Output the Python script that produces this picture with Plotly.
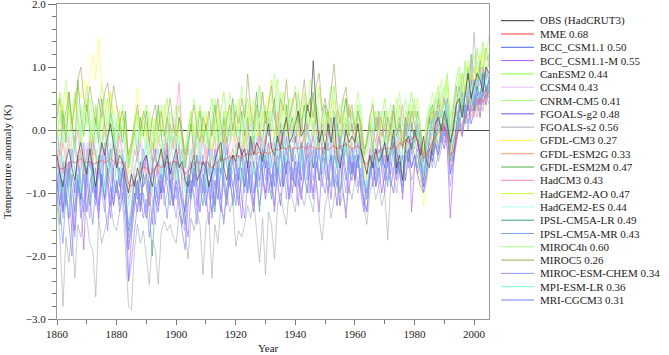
import plotly.graph_objects as go

years = list(range(1860, 2006))

names = ["OBS (HadCRUT3)", "MME", "BCC_CSM1.1", "BCC_CSM1.1-M", "CanESM2", "CCSM4",
         "CNRM-CM5", "FGOALS-g2", "FGOALS-s2", "GFDL-CM3", "GFDL-ESM2G", "GFDL-ESM2M",
         "HadCM3", "HadGEM2-AO", "HadGEM2-ES", "IPSL-CM5A-LR", "IPSL-CM5A-MR",
         "MIROC4h", "MIROC5", "MIROC-ESM-CHEM", "MPI-ESM-LR", "MRI-CGCM3"]
corr = [None, 0.68, 0.50, 0.55, 0.44, 0.43, 0.41, 0.48, 0.56, 0.27, 0.33, 0.47,
        0.43, 0.47, 0.44, 0.49, 0.43, 0.60, 0.26, 0.34, 0.36, 0.31]
colors = ["#303030", "#ff3a3a", "#4a68f0", "#a858ff", "#88ff38", "#ecbcff",
          "#a8ff78", "#8050e0", "#a0aab4", "#ffff40", "#ff9c68", "#50b048",
          "#ff84b8", "#c4ff38", "#b4fff0", "#40a084", "#78a4ff", "#a4ff84",
          "#a4a458", "#9494ff", "#74ffd0", "#7a80ff"]

obs = [-0.4,-0.7,-0.9,-0.5,-0.3,-0.6,-0.8,-0.4,-0.2,-0.5,
       -0.7,-0.3,-0.6,-0.9,-0.5,-0.2,-0.4,-0.1,0.1,-0.3,
       -0.6,-0.4,-0.5,-0.8,-1.0,-0.7,-0.9,-0.6,-0.8,-0.5,
       -0.4,-0.7,-0.9,-0.6,-0.5,-0.3,-0.6,-0.4,-0.7,-0.5,
       -0.3,-0.6,-0.5,-0.8,-0.9,-0.6,-0.4,-0.8,-0.7,-0.5,
       -0.6,-0.9,-0.7,-0.5,-0.3,-0.2,-0.6,-0.8,-0.5,-0.4,
       -0.5,-0.2,-0.4,-0.3,-0.6,-0.1,-0.4,-0.2,-0.3,-0.5,
       -0.2,0.1,-0.3,-0.4,-0.1,-0.3,0.0,0.2,-0.2,-0.1,
       0.1,0.3,-0.1,0.0,0.4,0.2,1.1,0.3,-0.2,0.0,
       -0.3,0.1,-0.2,0.2,-0.4,-0.6,-0.3,0.0,-0.2,-0.1,
       -0.2,0.1,-0.3,-0.5,-0.7,-0.4,-0.6,-0.3,-0.5,-0.4,
       -0.2,-0.5,-0.3,0.0,-0.6,-0.4,-0.8,-0.2,-0.1,-0.3,
       0.0,-0.2,-0.4,-0.1,-0.5,-0.6,-0.2,0.1,0.2,0.0,
       0.3,0.1,-0.2,0.0,0.4,0.5,0.2,0.6,0.9,0.5,
       0.7,0.9,0.8,0.6,1.0,0.9]

mme = [-0.55,-0.6,-0.62,-0.58,-0.55,-0.5,-0.52,-0.5,-0.45,-0.5,
       -0.52,-0.5,-0.55,-0.52,-0.5,-0.48,-0.52,-0.5,-0.45,-0.5,
       -0.55,-0.52,-0.5,-0.6,-0.85,-0.9,-0.8,-0.7,-0.65,-0.6,
       -0.6,-0.7,-0.68,-0.6,-0.55,-0.6,-0.55,-0.5,-0.55,-0.5,
       -0.5,-0.55,-0.6,-0.7,-0.65,-0.6,-0.55,-0.5,-0.52,-0.55,
       -0.5,-0.55,-0.6,-0.55,-0.5,-0.45,-0.48,-0.45,-0.42,-0.45,
       -0.4,-0.42,-0.45,-0.4,-0.38,-0.4,-0.35,-0.38,-0.35,-0.4,
       -0.35,-0.38,-0.35,-0.3,-0.32,-0.3,-0.28,-0.3,-0.25,-0.3,
       -0.28,-0.3,-0.25,-0.28,-0.3,-0.25,-0.28,-0.3,-0.3,-0.28,
       -0.3,-0.32,-0.28,-0.25,-0.3,-0.28,-0.25,-0.22,-0.25,-0.3,
       -0.28,-0.25,-0.3,-0.5,-0.55,-0.45,-0.4,-0.35,-0.35,-0.3,
       -0.3,-0.28,-0.3,-0.25,-0.3,-0.2,-0.25,-0.15,-0.2,-0.15,
       -0.1,-0.15,-0.3,-0.45,-0.4,-0.3,-0.2,-0.1,-0.05,0.0,
       0.05,-0.1,-0.4,-0.35,-0.15,0.05,0.1,0.2,0.25,0.3,
       0.35,0.4,0.5,0.45,0.55,0.6]

bcc_csm11 = [-0.8,-1.2,-0.5,-0.9,-1.4,-0.7,-1.0,-0.4,-0.9,-1.3,
             -0.6,-0.2,-0.8,-1.1,-0.5,-0.9,-0.3,-0.7,-1.2,-0.6,
             -0.4,-0.9,-0.6,-1.0,-1.6,-1.3,-0.8,-1.1,-0.5,-0.9,
             -0.7,-1.2,-0.6,-0.3,-0.8,-1.0,-0.5,-0.2,-0.9,-0.6,
             -0.4,-0.8,-1.1,-1.3,-0.7,-0.5,-0.9,-0.4,-0.7,-1.0,
             -0.6,-0.3,-0.8,-1.2,-0.5,-0.7,-0.2,-0.6,-0.9,-0.4,
             -0.5,-0.8,-0.3,-0.6,-1.0,-0.4,-0.1,-0.5,-0.8,-0.3,
             -0.6,-0.2,-0.5,-0.9,-0.3,0.0,-0.4,-0.7,-0.2,-0.5,
             -0.1,-0.4,-0.8,-0.3,0.1,-0.2,-0.6,-0.4,0.0,-0.3,
             -0.5,-0.1,0.2,-0.3,-0.6,-0.2,-0.4,0.1,-0.3,-0.7,
             -0.2,-0.5,-0.1,-0.8,-1.0,-0.6,-0.3,-0.5,-0.1,-0.4,
             -0.6,-0.2,0.1,-0.4,-0.7,-0.3,0.0,-0.2,-0.5,0.1,
             -0.2,0.0,-0.5,-0.7,-0.3,-0.1,0.2,-0.2,0.1,0.3,
             0.0,0.4,-0.3,-0.5,0.1,0.3,0.6,0.2,0.5,0.8,
             0.4,0.7,0.5,0.9,0.6,0.8]

bcc_csm11m = [-0.5,-0.9,-1.3,-0.6,-1.0,-1.6,-0.8,-0.4,-1.1,-1.9,
              -0.7,-0.3,-1.0,-0.6,-1.2,-0.5,-0.2,-0.9,-1.4,-0.6,
              -0.3,-0.8,-1.1,-0.5,-2.4,-1.7,-1.2,-0.8,-1.3,-0.7,
              -0.4,-1.0,-1.5,-0.8,-0.5,-1.1,-0.7,-0.3,-0.9,-1.2,
              -0.6,-0.2,-0.9,-1.4,-1.7,-1.0,-0.6,-1.2,-0.8,-0.4,
              -1.0,-1.5,-0.7,-0.3,-0.9,-1.3,-0.6,-0.2,-0.8,-1.1,
              -0.5,-0.9,-1.4,-0.6,-0.3,-0.8,-1.2,-0.5,-0.1,-0.7,
              -1.0,-0.4,-0.8,-1.3,-0.6,-0.2,-0.9,-0.5,-1.1,-0.3,
              -0.7,-1.2,-0.4,0.0,-0.6,-1.0,-0.3,-0.8,-1.3,-0.5,
              -0.2,-0.7,-1.1,-0.4,0.1,-0.5,-0.9,-1.4,-0.6,-0.2,
              -0.8,-0.4,-1.0,-1.3,-0.7,-0.3,-0.9,-0.5,0.2,-0.6,
              -1.0,-0.4,-0.7,-0.2,-0.8,-0.5,-1.1,-0.3,0.1,-1.3,
              -0.6,-0.2,-0.5,-0.9,-0.3,0.2,-0.4,0.0,0.3,-0.2,
              0.1,-0.3,-1.4,-0.6,0.0,0.4,0.2,0.7,0.3,1.2,
              0.5,0.9,0.4,1.0,0.7,0.6]

canesm2 = [0.3,0.6,0.2,-0.1,0.4,0.0,0.5,0.1,-0.2,0.3,
           0.7,0.2,-0.1,0.4,0.1,-0.3,0.2,0.5,0.0,-0.2,
           0.1,0.3,-0.2,0.2,-0.5,-0.3,0.0,0.3,-0.1,0.2,
           0.4,0.0,-0.3,0.1,0.3,-0.1,0.2,0.5,0.0,-0.2,
           0.1,0.4,-0.1,-0.4,0.0,0.3,-0.2,0.1,0.4,0.0,
           -0.3,0.2,0.5,0.0,-0.2,0.3,0.6,0.1,-0.1,0.2,
           0.4,0.0,-0.3,0.2,0.5,0.1,-0.2,0.3,0.7,0.2,
           -0.1,0.3,0.0,0.4,0.8,0.2,-0.1,0.3,0.5,0.0,
           0.2,0.6,0.1,-0.2,0.3,0.5,0.0,0.4,0.2,-0.1,
           0.3,0.0,0.4,0.7,0.1,-0.2,0.2,0.5,0.0,0.3,
           0.1,0.4,-0.1,-0.4,-0.2,0.2,0.0,0.3,-0.1,0.2,
           0.5,0.1,-0.2,0.3,0.0,0.4,0.1,-0.2,0.3,0.6,
           0.2,0.0,-0.3,-0.5,0.1,0.4,0.2,0.5,0.7,0.3,
           0.6,0.9,0.2,0.4,0.8,1.0,0.6,1.1,0.8,1.2,
           0.9,1.3,1.0,1.4,1.1,1.2]

ccsm4 = [-0.2,-0.5,0.0,-0.4,-0.7,-0.1,-0.3,-0.6,0.1,-0.4,
         -0.2,-0.5,-0.1,-0.4,-0.8,-0.3,0.0,-0.5,-0.2,-0.6,
         -0.3,0.1,-0.4,-0.2,-0.9,-0.6,-0.3,-0.5,-0.1,-0.4,
         -0.6,-0.2,0.0,-0.5,-0.3,-0.7,-0.2,0.1,-0.4,-0.1,
         -0.5,-0.3,-0.6,-0.8,-0.2,-0.4,0.0,-0.3,-0.6,-0.2,
         -0.4,-0.1,-0.5,-0.7,-0.3,0.0,-0.4,-0.2,0.1,-0.3,
         -0.5,-0.2,0.0,-0.4,-0.1,0.2,-0.3,-0.5,-0.1,0.1,
         -0.2,-0.4,0.0,0.3,-0.1,-0.3,0.1,-0.2,0.2,-0.1,
         -0.3,0.0,0.2,-0.2,0.1,-0.4,-0.1,0.3,0.0,-0.2,
         0.1,-0.3,0.0,0.2,-0.1,-0.4,0.1,-0.2,0.0,0.3,
         -0.1,0.1,-0.2,-0.6,-0.4,-0.1,0.2,-0.3,0.0,-0.2,
         0.1,-0.3,0.0,0.2,-0.2,0.1,-0.1,0.3,0.0,0.2,
         0.4,0.1,-0.1,-0.4,0.0,0.3,0.1,0.5,0.2,0.6,
         0.3,0.5,-0.1,0.2,0.6,0.4,0.7,0.9,0.5,0.8,
         1.0,0.7,1.1,0.9,0.8,1.2]

cnrm_cm5 = [0.5,0.1,0.4,0.8,0.3,0.0,0.6,0.2,-0.1,0.4,
            0.1,0.5,0.2,-0.2,0.3,0.7,0.4,0.0,0.3,-0.1,
            0.2,0.0,0.4,0.1,-0.4,-0.2,0.1,0.3,-0.1,0.2,
            -0.1,0.3,0.0,-0.3,0.2,0.4,0.0,-0.2,0.3,0.1,
            0.4,0.0,-0.2,-0.5,-0.1,0.2,0.5,0.1,-0.2,0.3,
            0.0,-0.3,0.2,0.5,0.1,-0.2,0.3,0.0,0.6,0.2,
            -0.1,0.3,0.7,0.2,0.0,0.4,0.1,-0.2,0.3,0.6,
            0.2,0.0,0.5,0.9,0.3,0.1,0.6,0.2,-0.1,0.4,
            0.7,0.3,0.0,0.5,0.2,0.8,0.4,0.1,0.6,0.3,
            0.0,0.4,0.7,0.2,-0.1,0.3,0.5,0.1,0.4,0.0,
            0.3,0.6,0.2,-0.3,-0.1,0.2,0.5,0.0,0.3,0.1,
            -0.2,0.2,0.4,0.0,0.3,0.6,0.1,-0.1,0.4,0.2,
            0.5,0.1,-0.2,-0.6,-0.1,0.3,0.6,0.2,0.4,0.8,
            0.4,0.7,0.0,0.3,0.6,0.9,0.5,1.0,0.7,0.9,
            1.2,0.8,1.0,1.3,0.9,1.1]

fgoals_g2 = [-1.0,-0.6,-1.3,-0.9,-0.5,-1.2,-1.6,-0.8,-1.1,-0.7,
             -1.3,-0.9,-0.5,-1.0,-1.4,-0.7,-1.1,-0.6,-0.9,-1.2,
             -0.8,-1.1,-0.6,-1.3,-1.9,-1.5,-1.0,-1.3,-0.8,-1.1,
             -1.4,-0.9,-0.6,-1.1,-1.3,-0.8,-1.0,-0.5,-0.9,-1.2,
             -0.8,-1.1,-1.5,-1.2,-0.7,-1.0,-0.6,-0.9,-1.3,-0.8,
             -0.5,-1.0,-1.3,-0.8,-1.1,-0.6,-0.9,-1.2,-0.7,-0.4,
             -0.9,-1.2,-0.6,-0.9,-0.5,-1.0,-1.3,-0.7,-0.4,-0.8,
             -1.1,-0.6,-0.9,-0.4,-0.8,-1.2,-0.7,-0.3,-0.6,-1.0,
             -0.5,-0.8,-1.1,-0.6,-0.2,-0.7,-1.0,-0.5,-0.8,-0.3,
             -0.7,-1.0,-0.4,-0.8,-1.2,-0.6,-0.3,-0.7,-1.0,-0.5,
             -0.8,-0.4,-0.9,-1.1,-1.3,-0.7,-0.5,-0.9,-0.6,-1.0,
             -0.7,-0.3,-0.8,-1.0,-0.5,-0.7,-0.4,-0.8,-0.3,-0.6,
             -0.4,-0.7,-0.9,-1.0,-0.6,-0.3,-0.5,-0.2,-0.4,-0.1,
             -0.3,0.0,-0.7,-0.5,-0.2,0.1,-0.1,0.2,0.4,0.1,
             0.3,0.5,0.2,0.6,0.4,0.7]

fgoals_s2 = [-1.2,-1.7,-2.8,-1.7,-2.1,-1.6,-2.35,-1.5,-1.7,-1.3,
             -1.4,-1.8,-1.9,-2.65,-1.4,-1.8,-1.6,-1.4,-1.15,-1.5,
             -1.6,-1.3,-1.1,-1.9,-2.8,-2.85,-1.9,-1.5,-1.8,-1.6,
             -2.0,-2.45,-1.75,-1.9,-2.45,-1.6,-1.45,-1.6,-1.5,-1.7,
             -1.8,-1.3,-1.5,-1.6,-2.05,-1.4,-1.6,-1.3,-1.5,-2.3,
             -1.5,-1.3,-2.35,-1.5,-1.8,-1.2,-1.4,-1.0,-1.3,-1.1,
             -1.85,-1.6,-1.7,-1.5,-1.2,-1.4,-1.1,-1.6,-2.1,-1.4,
             -2.3,-1.3,-1.5,-2.05,-1.2,-1.0,-1.3,-1.5,-0.9,-1.1,
             -1.3,-0.8,-1.0,-1.2,-0.9,-1.1,-1.3,-0.8,-1.4,-1.75,
             -1.2,-1.0,-1.4,-1.1,-0.8,-1.2,-1.0,-1.3,-0.9,-1.1,
             -0.8,-1.0,-0.7,-1.2,-1.5,-1.0,-0.8,-1.1,-0.9,-1.2,
             -1.0,-1.75,-0.9,-0.7,-1.0,-0.6,-0.9,-0.7,-0.5,-0.8,
             -0.6,-0.4,-0.7,-1.0,-0.8,-0.5,-0.3,-0.6,-0.4,-0.2,
             0.2,0.5,0.0,0.4,0.7,0.3,0.9,0.6,1.0,0.7,
             1.55,0.8,1.1,0.9,1.3,1.0]

gfdl_cm3 = [0.3,0.5,0.2,0.6,0.3,0.0,0.4,0.7,0.5,0.8,
            0.6,0.9,1.2,0.8,1.45,0.7,0.5,0.3,0.6,0.2,
            0.4,0.1,0.3,0.0,-0.4,-0.2,0.2,0.66,0.3,0.1,
            -0.2,0.2,0.0,-0.3,0.1,0.3,-0.1,0.2,0.0,-0.3,
            0.1,-0.2,0.0,-0.5,-0.3,0.1,-0.1,0.3,0.0,-0.2,
            0.2,-0.1,-0.4,0.0,0.3,0.1,-0.2,0.0,0.4,0.1,
            -0.2,0.2,0.0,-0.3,0.1,0.4,0.2,-0.1,0.3,0.0,
            0.3,0.55,0.1,-0.2,0.2,0.0,0.4,0.1,-0.1,0.3,
            0.0,0.3,0.1,-0.2,0.2,0.5,0.1,-0.1,0.2,0.0,
            -0.3,0.1,0.3,-0.1,-0.4,0.0,0.2,-0.2,0.1,-0.3,
            0.0,0.2,-0.2,-0.6,-0.8,-0.4,-0.1,-0.3,0.0,-0.2,
            -0.4,-0.1,0.1,-0.3,-0.5,-0.2,0.0,-0.4,-0.1,0.2,
            -0.2,-0.5,-0.8,-1.2,-0.9,-0.4,-0.1,0.1,-0.2,0.3,
            0.1,0.4,-0.5,-0.2,0.3,0.6,0.4,0.8,0.5,0.9,
            0.7,1.0,0.8,1.2,0.9,1.1]

gfdl_esm2g = [-0.3,-0.6,-0.2,-0.5,-0.8,-0.4,-0.1,-0.6,-0.3,-0.7,
              -0.4,-0.1,-0.5,-0.3,-0.7,-0.2,-0.5,-0.8,-0.4,-0.2,
              -0.6,-0.3,-0.5,-0.7,-1.1,-0.9,-0.6,-0.4,-0.7,-0.5,
              -0.8,-1.2,-0.6,-0.4,-0.7,-0.3,-0.6,-0.2,-0.5,-0.8,
              -0.5,-0.3,-0.7,-0.9,-0.6,-0.4,-0.2,-0.6,-0.8,-0.4,
              -0.3,-0.6,-0.4,-0.7,-0.2,-0.5,-0.3,-0.1,-0.5,-0.3,
              -0.6,-0.2,-0.4,0.0,-0.3,-0.5,-0.2,-0.4,0.1,-0.3,
              -0.1,-0.4,-0.2,-0.5,0.0,-0.3,-0.1,0.2,-0.2,-0.4,
              -0.2,0.1,-0.3,-0.1,-0.4,-0.2,0.1,-0.3,0.0,-0.2,
              -0.4,-0.1,0.1,-0.2,-0.5,-0.3,0.0,-0.2,-0.4,-0.1,
              0.0,-0.3,-0.1,-0.5,-0.7,-0.4,-0.2,-0.5,-0.1,-0.3,
              -0.5,-0.2,0.0,-0.3,-0.6,-0.1,-0.3,0.1,-0.2,-0.4,
              -0.1,0.1,-0.3,-0.6,-0.4,-0.2,0.0,-0.3,0.2,0.0,
              0.1,-0.1,-0.6,-0.3,0.0,0.2,-0.1,0.3,0.5,0.2,
              0.4,0.2,0.5,0.3,0.6,0.4]

gfdl_esm2m = [0.0,-0.4,0.3,-0.2,0.6,0.1,-0.3,0.8,0.2,-0.1,
              0.4,0.0,-0.4,0.2,-0.2,0.5,0.1,-0.3,0.3,0.0,
              -0.4,0.1,-0.2,0.3,-0.6,-0.3,0.0,-0.4,0.2,-0.1,
              0.3,-0.2,-0.5,0.0,0.4,-0.1,-0.4,0.2,-0.2,0.1,
              -0.3,0.2,-0.1,-0.6,-0.2,0.1,-0.4,0.0,0.3,-0.2,
              0.1,-0.3,0.0,0.4,-0.1,-0.5,0.2,-0.2,0.1,0.5,
              0.0,-0.3,0.3,-0.1,0.2,-0.4,0.1,0.6,0.0,-0.2,
              0.3,-0.1,0.2,0.5,-0.2,0.1,-0.3,0.4,0.0,0.2,
              -0.2,0.3,0.0,0.4,-0.1,0.2,0.6,0.0,-0.3,0.2,
              0.4,0.0,-0.2,0.3,0.1,-0.3,0.2,0.5,-0.1,0.1,
              -0.2,0.3,0.0,-0.4,-0.2,0.1,-0.3,0.2,0.0,-0.1,
              0.3,-0.2,0.1,0.4,-0.1,0.2,-0.3,0.0,0.3,0.1,
              -0.1,0.3,0.0,-0.5,-0.2,0.2,0.4,0.1,0.5,0.2,
              0.5,0.2,-0.3,0.1,0.4,0.7,0.3,0.6,0.9,0.5,
              0.8,0.6,1.0,0.7,0.9,0.8]

hadcm3 = [-0.5,-0.2,-0.7,-0.4,-0.1,-0.6,-0.3,0.0,-0.5,-0.8,
          -0.3,-0.6,-0.1,-0.4,-0.7,-0.2,0.1,-0.3,-0.6,-0.2,
          -0.5,-0.1,-0.4,-0.6,-1.0,-0.7,-0.3,-0.5,-0.2,-0.6,
          -0.4,-0.7,-0.2,-0.5,-0.1,-0.4,-0.6,-0.2,0.1,-0.3,
          0.2,0.75,-0.1,-0.5,-0.3,-0.6,-0.2,0.0,-0.4,-0.1,
          -0.5,-0.2,-0.4,-0.1,-0.6,-0.3,0.0,-0.4,-0.2,0.1,
          -0.3,-0.1,-0.5,-0.2,0.1,-0.3,-0.6,-0.2,0.0,-0.4,
          -0.1,0.2,-0.3,-0.1,0.3,-0.2,0.0,-0.4,0.1,-0.2,
          0.0,-0.3,0.2,-0.1,0.1,-0.4,0.0,0.3,-0.2,0.1,
          -0.1,0.2,-0.3,0.0,0.3,-0.2,0.1,-0.1,0.4,0.0,
          -0.2,0.1,-0.1,-0.5,-0.6,-0.3,0.0,-0.2,0.2,-0.1,
          0.1,-0.2,0.2,0.0,-0.3,0.1,0.4,-0.1,0.2,0.0,
          0.3,0.1,-0.2,-0.5,-0.2,0.1,0.3,0.0,0.4,0.2,
          0.5,0.3,-0.2,0.0,0.4,0.6,0.3,0.7,0.5,0.9,
          0.6,0.8,0.7,1.0,0.8,0.9]

hadgem2_ao = [0.2,-0.1,0.4,0.0,-0.3,0.3,0.6,0.1,-0.2,0.2,
              0.5,0.1,-0.2,0.3,0.0,0.4,-0.1,0.2,0.6,0.1,
              -0.2,0.2,0.0,-0.3,-0.7,-0.4,-0.1,0.2,-0.2,0.1,
              0.0,-0.4,-0.1,0.2,-0.2,0.1,0.4,0.0,-0.3,0.2,
              0.1,-0.2,-0.5,-0.3,0.0,0.3,-0.1,0.2,-0.2,0.0,
              0.3,-0.1,-0.3,0.1,0.4,0.0,-0.2,0.3,0.1,-0.1,
              0.2,0.5,0.0,-0.2,0.3,0.1,0.5,0.2,-0.1,0.3,
              0.1,0.4,0.8,0.2,-0.1,0.3,0.6,0.0,0.2,0.5,
              0.3,-0.1,0.2,0.6,0.1,0.3,-0.1,0.4,0.7,0.2,
              0.0,0.3,0.1,0.5,0.2,-0.1,0.3,0.0,0.4,0.2,
              0.1,-0.2,0.2,-0.5,-0.3,0.0,0.3,0.1,-0.1,0.2,
              0.0,0.3,-0.1,0.2,0.5,0.1,-0.2,0.3,0.1,0.4,
              0.2,0.5,0.0,-0.4,-0.1,0.3,0.1,0.4,0.6,0.2,
              0.5,0.8,-0.1,0.3,0.6,0.4,0.9,0.6,1.1,0.8,
              1.0,0.8,1.2,1.0,1.3,1.1]

hadgem2_es = [-0.6,-0.2,-0.9,-0.4,0.0,-0.5,-0.8,-0.3,0.1,-0.4,
              -0.7,-0.2,0.2,-0.3,-0.6,-0.1,-0.4,0.0,-0.5,0.3,
              -0.2,-0.5,-0.1,-0.4,-0.9,-0.6,-0.3,0.1,-0.2,-0.5,
              -0.1,-0.6,-0.3,0.0,-0.4,-0.7,-0.2,0.1,-0.3,0.2,
              -0.4,-0.1,-0.6,-0.3,0.0,-0.5,-0.2,0.2,-0.3,-0.6,
              -0.2,0.1,-0.4,-0.7,-0.3,0.0,-0.5,-0.2,0.3,-0.1,
              -0.4,0.0,-0.3,0.2,-0.1,-0.5,0.1,-0.2,0.4,-0.3,
              0.0,-0.2,0.3,-0.1,-0.4,0.2,0.0,-0.3,0.1,0.4,
              -0.1,0.2,-0.2,0.0,0.3,-0.3,0.1,-0.1,0.2,-0.2,
              0.1,-0.3,0.0,0.3,-0.1,0.2,-0.4,0.0,0.2,-0.2,
              0.0,0.3,-0.1,-0.4,-0.6,-0.2,0.1,-0.3,0.0,-0.1,
              -0.3,0.0,0.2,-0.2,0.1,-0.4,0.0,0.2,-0.1,0.3,
              0.0,0.2,-0.3,-0.6,-0.2,0.1,-0.1,0.3,0.1,0.4,
              0.2,0.5,-0.4,-0.1,0.3,0.6,0.2,0.5,0.8,0.4,
              0.7,0.5,0.9,0.6,0.8,0.7]

ipsl_cm5a_lr = [-1.0,-1.5,-0.8,-1.2,-0.6,-0.9,-1.3,-0.7,-1.1,-0.5,
                -0.8,-1.2,-0.6,-1.0,-0.4,-0.9,-1.1,-0.6,-0.3,-0.8,
                -1.0,-0.6,-0.9,-1.2,-1.7,-1.4,-1.1,-0.8,-1.2,-0.7,
                -0.9,-1.3,-2.0,-1.1,-0.8,-1.0,-0.6,-0.9,-1.2,-0.7,
                -0.5,-0.9,-1.2,-1.5,-0.8,-1.1,-0.7,-0.4,-0.9,-1.2,
                -0.8,-0.5,-1.0,-1.3,-0.7,-0.4,-0.8,-1.1,-0.6,-0.9,
                -1.2,-0.7,-0.4,-0.9,-0.6,-1.0,-0.5,-0.8,-1.3,-0.6,
                -0.4,-0.8,-1.1,-0.5,-0.7,-0.3,-0.9,-0.6,-0.2,-0.7,
                -0.9,-0.5,-0.2,-0.7,-1.0,-0.4,-0.6,-0.3,-0.8,-0.5,
                -0.3,-0.7,-0.9,-0.4,-0.6,-1.0,-0.5,-0.2,-0.6,-0.8,
                -0.4,-0.6,-0.3,-0.9,-1.1,-0.7,-0.4,-0.8,-0.5,-0.3,
                -0.6,-0.9,-0.4,-0.2,-0.7,-0.5,-0.8,-0.3,-0.5,-0.2,
                -0.4,-0.6,-0.3,-0.8,-0.5,-0.2,-0.4,0.0,-0.3,0.1,
                -0.1,0.2,-0.5,-0.2,0.0,0.3,0.5,0.1,0.4,0.6,
                0.3,0.7,0.5,0.9,0.6,0.8]

ipsl_cm5a_mr = [-0.4,-0.8,-1.1,-0.5,-0.9,-0.3,-0.7,-1.0,-0.6,-0.2,
                -0.9,-0.5,-0.8,-1.2,-0.6,-0.4,-0.9,-0.3,-0.7,-1.0,
                -0.5,-0.8,-0.4,-0.9,-1.5,-1.2,-0.7,-1.0,-0.6,-0.3,
                -0.7,-1.0,-0.5,-0.8,-1.1,-0.6,-0.4,-0.8,-0.5,-0.9,
                -1.1,-0.6,-0.3,-0.8,-1.0,-0.7,-0.5,-0.9,-0.4,-0.7,
                -1.0,-0.6,-0.9,-0.4,-0.8,-1.1,-0.5,-0.3,-0.7,-0.5,
                -0.8,-0.4,-0.7,-1.0,-0.5,-0.2,-0.6,-0.9,-0.4,-0.6,
                -0.3,-0.7,-0.5,-0.2,-0.8,-0.4,-0.6,-0.1,-0.5,-0.8,
                -0.4,-0.7,-0.2,-0.5,-0.8,-0.3,-0.1,-0.6,-0.4,-0.7,
                -0.5,-0.2,-0.6,-0.9,-0.4,-0.1,-0.5,-0.3,-0.7,-0.4,
                -0.6,-0.2,-0.5,-0.8,-1.0,-0.6,-0.4,-0.7,-0.3,-0.5,
                -0.2,-0.6,-0.4,-0.1,-0.5,-0.7,-0.3,0.2,-0.4,-0.1,
                -0.3,0.1,-0.2,-0.7,-0.5,-0.1,0.2,-0.2,0.3,0.0,
                0.2,0.5,-0.3,0.0,0.4,0.1,0.6,0.3,0.7,0.5,
                0.8,0.5,0.9,0.7,1.0,0.8]

miroc4h = [-0.1,0.3,-0.2,0.1,0.5,0.0,-0.3,0.2,0.4,-0.1,
           0.2,-0.2,0.1,0.4,-0.1,0.2,-0.3,0.0,0.3,-0.2,
           0.1,-0.1,0.2,-0.2,-0.6,-0.3,0.0,-0.2,0.1,-0.1,
           -0.3,0.0,0.2,-0.2,0.1,-0.4,-0.1,0.2,-0.2,0.0,
           -0.2,0.1,-0.3,-0.5,-0.1,0.2,0.0,-0.3,0.1,-0.2,
           0.0,-0.3,0.1,-0.2,0.2,-0.1,0.3,0.0,-0.2,0.1,
           -0.1,0.2,0.0,0.4,-0.1,0.1,-0.2,0.3,0.0,0.2,
           0.4,0.0,0.2,-0.1,0.3,0.6,0.1,-0.1,0.2,0.0,
           0.2,0.5,0.0,0.3,-0.1,0.2,0.0,0.4,0.1,-0.2,
           0.1,0.3,0.0,-0.2,0.2,0.4,0.0,0.2,-0.1,0.3,
           0.0,0.2,0.4,-0.3,-0.2,0.1,-0.1,0.2,0.0,0.3,
           0.1,-0.2,0.2,0.0,0.3,-0.1,0.2,0.5,0.0,0.2,
           0.4,0.1,-0.1,-0.3,0.2,0.0,0.3,0.5,0.2,0.4,
           0.7,0.4,0.0,0.2,0.5,0.8,0.4,0.7,1.0,0.6,
           0.9,1.1,0.8,1.0,1.2,1.5]

miroc5 = [0.2,0.5,0.0,0.3,0.6,0.1,0.4,0.8,1.0,0.5,
          0.3,0.7,0.4,0.1,0.5,0.2,0.6,0.75,0.3,0.7,
          0.4,0.1,0.3,-0.1,-0.4,-0.2,0.1,0.4,0.0,0.3,
          0.1,-0.2,0.2,0.4,0.0,0.3,-0.1,0.2,0.5,0.1,
          -0.1,0.2,0.0,-0.4,-0.2,0.1,0.4,0.0,-0.2,0.2,
          0.0,0.3,-0.1,0.2,0.5,0.1,-0.2,0.2,0.4,0.0,
          0.3,0.1,0.5,0.2,0.89,0.3,0.0,0.4,0.2,0.6,
          0.1,0.4,0.7,0.2,0.0,0.5,0.3,0.8,0.2,0.4,
          0.6,0.1,0.4,0.8,0.3,0.5,0.2,0.7,0.9,0.3,
          0.5,0.2,0.6,1.05,0.4,0.1,0.5,0.68,0.2,0.4,
          0.0,0.3,0.1,-0.3,-0.2,0.2,0.4,0.0,0.3,0.1,
          -0.2,0.2,0.0,0.3,-0.1,0.1,-0.3,0.2,0.0,0.3,
          0.1,-0.2,0.0,-0.4,-0.1,0.2,0.0,0.3,0.1,-0.1,
          0.2,0.0,-0.3,0.1,0.3,0.0,0.4,0.2,0.6,0.3,
          0.5,0.3,0.6,0.4,0.7,0.5]

miroc_esm_chem = [-1.2,-0.8,-1.4,-1.0,-0.6,-1.3,-1.7,-0.9,-1.2,-0.7,
                  -1.0,-1.4,-0.8,-1.1,-0.6,-1.0,-1.3,-0.8,-0.5,-1.1,
                  -0.9,-1.2,-0.7,-1.0,-1.8,-1.6,-1.2,-0.9,-1.3,-1.0,
                  -1.3,-0.8,-1.1,-1.5,-0.9,-0.7,-1.2,-1.0,-0.6,-1.1,
                  -1.4,-0.9,-1.2,-1.6,-1.1,-0.8,-1.0,-1.3,-0.7,-1.0,
                  -1.2,-0.8,-1.1,-0.6,-0.9,-1.3,-0.7,-1.0,-0.5,-0.9,
                  -0.7,-1.1,-0.8,-0.5,-1.0,-0.7,-1.2,-0.6,-0.9,-0.4,
                  -0.8,-0.5,-1.0,-0.7,-0.4,-0.9,-0.6,-1.1,-0.5,-0.8,
                  -0.6,-0.9,-0.4,-0.7,-1.0,-0.5,-0.8,-0.3,-0.7,-0.9,
                  -0.5,-0.8,-0.3,-0.6,-0.9,-0.4,-0.7,-1.0,-0.5,-0.3,
                  -0.7,-0.4,-0.8,-1.2,-1.0,-0.6,-0.8,-0.5,-0.9,-0.6,
                  -0.4,-0.8,-0.5,-0.7,-0.3,-0.6,-0.9,-0.4,-0.6,-0.3,
                  -0.6,-0.3,-0.7,-1.0,-0.8,-0.4,-0.6,-0.2,-0.5,-0.3,
                  0.0,-0.3,-0.9,-0.5,-0.2,0.1,-0.1,0.3,0.0,0.4,
                  0.2,0.5,0.3,0.6,0.4,0.7]

mpi_esm_lr = [-0.6,-1.0,-0.4,-0.8,-1.3,-0.5,-0.2,-0.7,-1.0,-0.4,
              -0.7,-0.3,-0.9,-0.5,-0.2,-0.6,-1.0,-0.4,-0.7,-0.1,
              -0.5,-0.8,-0.3,-0.6,-1.2,-1.0,-0.7,-0.4,-0.8,-0.5,
              -0.2,-0.7,-1.0,-0.5,-0.3,-0.8,-0.4,-0.6,-0.1,-0.5,
              -0.8,-0.4,-0.7,-1.0,-0.6,-0.3,-0.7,-0.5,-0.2,-0.6,
              -0.9,-0.5,-0.3,-0.7,-0.4,-0.8,-0.2,-0.6,-0.4,-0.7,
              -0.3,-0.6,-0.8,-0.4,-0.1,-0.5,-0.7,-0.3,-0.6,-0.2,
              -0.5,-0.3,-0.6,-0.1,-0.4,-0.7,-0.2,-0.5,-0.3,0.0,
              -0.4,-0.2,-0.6,-0.3,0.0,-0.5,-0.3,-0.1,-0.4,-0.6,
              -0.2,-0.5,-0.1,-0.4,-0.6,-0.3,0.0,-0.4,-0.2,-0.5,
              -0.3,-0.1,-0.4,-0.7,-0.9,-0.5,-0.2,-0.4,-0.6,-0.3,
              -0.1,-0.4,-0.2,-0.5,0.0,-0.3,-0.6,-0.2,0.1,-0.3,
              -0.2,0.0,-0.4,-0.7,-0.3,-0.1,0.2,-0.2,0.0,0.3,
              0.1,0.4,-0.4,-0.1,0.2,0.0,0.5,0.3,0.6,0.4,
              0.6,0.8,0.5,0.7,0.9,0.6]

mri_cgcm3 = [-0.7,-1.3,-1.8,-1.0,-1.5,-2.0,-1.2,-0.8,-1.4,-1.1,
             -0.6,-1.0,-1.5,-0.9,-1.3,-0.7,-1.1,-1.6,-0.9,-1.2,
             -0.8,-1.3,-1.0,-1.5,-2.4,-2.1,-1.6,-1.2,-1.0,-1.4,
             -1.1,-1.7,-1.3,-0.9,-1.2,-0.7,-1.0,-1.4,-0.8,-1.1,
             -0.9,-1.3,-1.6,-1.9,-1.2,-0.8,-1.1,-1.5,-0.9,-0.7,
             -1.2,-0.8,-1.4,-1.0,-0.6,-1.1,-1.5,-0.9,-0.7,-1.2,
             -0.9,-0.6,-1.1,-1.4,-0.8,-0.5,-1.0,-0.7,-1.2,-0.8,
             -0.5,-1.0,-0.7,-1.2,-0.6,-0.9,-0.4,-0.8,-1.1,-0.6,
             -0.9,-0.5,-1.0,-0.7,-0.4,-0.8,-1.1,-0.6,-0.3,-0.8,
             -1.0,-0.6,-0.4,-0.9,-0.7,-1.2,-0.5,-0.8,-0.4,-0.7,
             -0.5,-0.9,-0.6,-1.1,-1.3,-0.8,-0.5,-0.9,-0.7,-0.4,
             -0.8,-0.5,-0.9,-0.6,-0.3,-0.7,-1.0,-0.5,-0.3,-0.6,
             -0.4,-0.7,-0.5,-0.9,-0.7,-0.3,-0.5,-0.2,-0.4,0.0,
             -0.2,0.1,-0.7,-0.4,-0.1,0.2,0.0,0.4,0.1,0.5,
             0.3,0.6,0.4,0.7,0.5,0.8]

series = [obs, mme, bcc_csm11, bcc_csm11m, canesm2, ccsm4, cnrm_cm5, fgoals_g2,
          fgoals_s2, gfdl_cm3, gfdl_esm2g, gfdl_esm2m, hadcm3, hadgem2_ao, hadgem2_es,
          ipsl_cm5a_lr, ipsl_cm5a_mr, miroc4h, miroc5, miroc_esm_chem, mpi_esm_lr, mri_cgcm3]

FONT = "Liberation Serif"
fig = go.Figure()

# models first, then MME and OBS on top
order = list(range(2, len(series))) + [1, 0]
for i in order:
    fig.add_trace(go.Scatter(x=years, y=series[i], mode="lines", name=names[i],
                             line=dict(color=colors[i], width=0.6), showlegend=False))

# custom legend (paper coordinates)
L, R, T, B = 57, 489, 4, 319
pw, ph = R - L, B - T
for i, nm in enumerate(names):
    label = nm if corr[i] is None else f"{nm} {corr[i]:.2f}"
    ypx = 20.7 + i * 13.3
    yp = (B - ypx) / ph
    fig.add_shape(type="line", xref="paper", yref="paper",
                  x0=(501 - L) / pw, x1=(534 - L) / pw, y0=yp, y1=yp,
                  line=dict(color=colors[i], width=1))
    fig.add_annotation(xref="paper", yref="paper", x=(538 - L) / pw, y=yp,
                       text=label, showarrow=False, xanchor="left", yanchor="middle",
                       font=dict(family=FONT, size=11, color="#222"))

# axis titles
fig.add_annotation(xref="paper", yref="paper", x=(268 - L) / pw, y=(B - 348) / ph,
                   text="Year", showarrow=False, xanchor="center", yanchor="middle",
                   font=dict(family=FONT, size=11, color="#222"))
fig.add_annotation(xref="paper", yref="paper", x=(7 - L) / pw, y=(B - 162) / ph,
                   text="Temperature anomaly (K)", showarrow=False, textangle=-90,
                   xanchor="center", yanchor="middle",
                   font=dict(family=FONT, size=11, color="#222"))

fig.update_layout(
    width=669, height=355,
    margin=dict(l=L, r=669 - R, t=T, b=355 - B, autoexpand=False),
    paper_bgcolor="white", plot_bgcolor="white",
    font=dict(family=FONT, size=11, color="#222"),
    showlegend=False,
)
fig.update_xaxes(range=[1860, 2005], tickvals=list(range(1860, 2001, 20)), automargin=False,
                 ticks="outside", ticklen=5, tickcolor="#777", ticklabeloverflow="allow",
                 minor=dict(tickvals=list(range(1870, 2001, 20)), ticks="outside", ticklen=4, tickcolor="#777"),
                 showline=True, linecolor="#999", linewidth=1, mirror=True,
                 showgrid=False, zeroline=False,
                 tickfont=dict(family=FONT, size=11, color="#222"))
fig.update_yaxes(range=[-3, 2], tickvals=[-3, -2, -1, 0, 1, 2], tickformat=".1f", automargin=False,
                 ticks="outside", ticklen=8, tickcolor="#777", ticklabeloverflow="allow",
                 minor=dict(dtick=0.2, ticks="outside", ticklen=4, tickcolor="#777"),
                 showline=True, linecolor="#999", linewidth=1, mirror=True,
                 showgrid=False, zeroline=True, zerolinecolor="#444", zerolinewidth=1,
                 tickfont=dict(family=FONT, size=11, color="#222"))

fig.write_html("out.html", config={"displayModeBar": False},
               post_script="document.body.style.margin='0';document.body.style.overflow='hidden';")
